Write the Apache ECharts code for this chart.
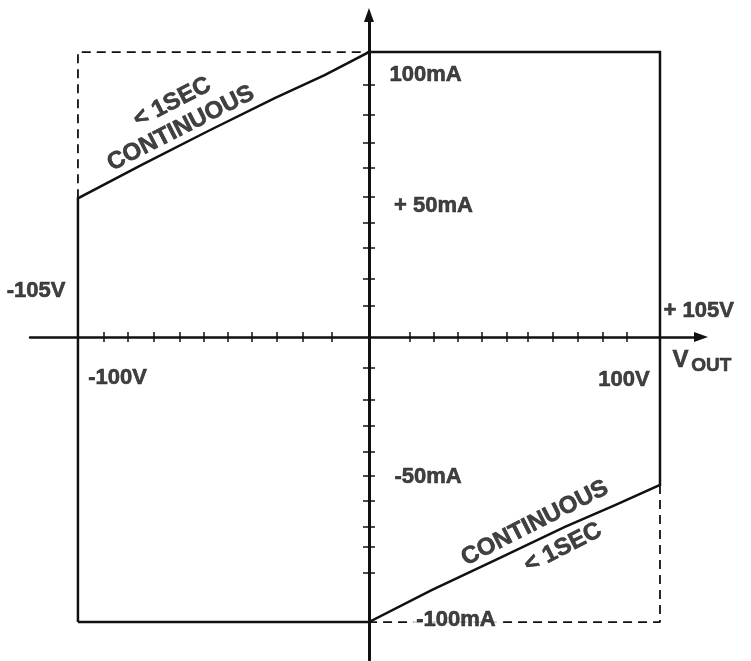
<!DOCTYPE html>
<html>
<head>
<meta charset="utf-8">
<script src="https://cdn.jsdelivr.net/npm/echarts@6/dist/echarts.min.js"></script>
<style>
html,body{margin:0;padding:0;background:#fff;}
#c{width:751px;height:661px;}
</style>
</head>
<body>
<div id="c"></div>
<script>
// Continuous operating boundary: output voltage (V) and output current (mA)
const boundaryV = [-105, -105, -82, -58, -34, -16, 0, 105, 105, 89, 70.7, 46.7, 22.6, 0, -105];
const boundaryI = [-100, 48.7, 60.4, 72.3, 83.8, 91.9, 100, 100, -51.9, -58.9, -66.6, -77.7, -88.8, -100, -100];
// < 1 second (pulsed) extensions, dashed
const pulseUpperV = [-105, -105, 0];
const pulseUpperI = [48.7, 100, 100];
const pulseLowerV = [105, 105, 0];
const pulseLowerI = [-51.9, -100, -100];
// tick marks as drawn on the axes
const xTickValues = [-95.6, -86.9, -77.6, -68.2, -59.5, -50.9, -42.2, -33.2, -23.8, -13.3,
                     14.8, 23.4, 32.1, 40.8, 49.8, 57.4, 66.4, 75.4, 84.4, 93.1];
const yTickValues = [88.4, 77.9, 68.1, 59.3, 49.1, 40.0, 31.2, 20.4, 10.9,
                     -10.9, -22.1, -31.2, -40.4, -48.8, -57.5, -66.7, -73.7, -82.8];
// annotation texts
const labelTexts = ['< 1SEC', 'CONTINUOUS', 'CONTINUOUS', '< 1SEC', '-105V', '+ 105V', '100mA', '+ 50mA', '-50mA', '-100mA', '-100V', '100V', 'V', 'OUT'];
// annotation anchors in data units (V, mA)
const labelAnchorV = [-71.0, -67.9, 59.9, 70.0, -120.1, 119.0, 20.4, 23.3, 21.3, 31.4, -90.7, 92.0, 112.4, 123.5];
const labelAnchorI = [82.3, 73.2, -65.3, -74.0, 16.1, 9.1, 91.9, 46.0, -49.1, -99.3, -14.4, -15.1, -8.1, -10.0];

const zip = (a, b) => a.map((v, k) => [v, b[k]]);
const INK = '#111';
const FONT = '"Liberation Sans", Arial, Helvetica, sans-serif';

const labelStyles = labelTexts.map((t, k) => {
  const s = { fontSize: 22 };
  if (k <= 3) { s.fontSize = 24; s.rotate = 27; }
  if (t === 'V') s.fontSize = 24;
  if (t === 'OUT') s.fontSize = 19;
  if (t === '-100mA') { s.backgroundColor = '#fff'; s.padding = [0, 3]; }
  return s;
});

const X_MIN = -122.3, X_MAX = 119.8, Y_MIN = -113.3, Y_MAX = 113.0;

function xAxisDef(pos, showLine) {
  return {
    type: 'value', position: pos, min: X_MIN, max: X_MAX,
    axisLine: { show: showLine, onZero: true, symbol: ['none', 'triangle'], symbolSize: [10, 14],
                lineStyle: { color: INK, width: 2.5 } },
    axisTick: { show: true, customValues: xTickValues, length: 5, inside: false,
                lineStyle: { color: INK, width: 1.5 } },
    axisLabel: { show: false }, splitLine: { show: false }
  };
}
function yAxisDef(pos, showLine) {
  return {
    type: 'value', position: pos, min: Y_MIN, max: Y_MAX,
    axisLine: { show: showLine, onZero: true, symbol: ['none', 'triangle'], symbolSize: [10, 14],
                lineStyle: { color: INK, width: 3 } },
    axisTick: { show: true, customValues: yTickValues, length: 6, inside: false,
                lineStyle: { color: INK, width: 1.5 } },
    axisLabel: { show: false }, splitLine: { show: false }
  };
}

const chart = echarts.init(document.getElementById('c'), null, { renderer: 'canvas' });
chart.setOption({
  backgroundColor: '#fff',
  animation: false,
  grid: { left: 30, right: 50, top: 15, bottom: 1, containLabel: false },
  xAxis: [xAxisDef('bottom', true), xAxisDef('top', false)],
  yAxis: [yAxisDef('left', true), yAxisDef('right', false)],
  series: [
    { type: 'line', data: zip(boundaryV, boundaryI), showSymbol: false, silent: true, z: 3,
      lineStyle: { color: INK, width: 2.5, join: 'miter' } },
    { type: 'line', data: zip(pulseUpperV, pulseUpperI), showSymbol: false, silent: true, z: 2,
      lineStyle: { color: INK, width: 1.8, type: [9, 6] } },
    { type: 'line', data: zip(pulseLowerV, pulseLowerI), showSymbol: false, silent: true, z: 2,
      lineStyle: { color: INK, width: 1.8, type: [9, 6] } },
    { type: 'scatter', symbolSize: 0, clip: false, silent: true, z: 5,
      label: { show: true, position: 'inside', formatter: '{b}', color: INK,
               textBorderColor: INK, textBorderWidth: 0.6,
               fontFamily: FONT, fontWeight: 'bold', align: 'center', verticalAlign: 'middle' },
      data: labelTexts.map((t, k) => ({
        name: t, value: [labelAnchorV[k], labelAnchorI[k]], label: labelStyles[k]
      })) }
  ]
});
</script>
</body>
</html>
